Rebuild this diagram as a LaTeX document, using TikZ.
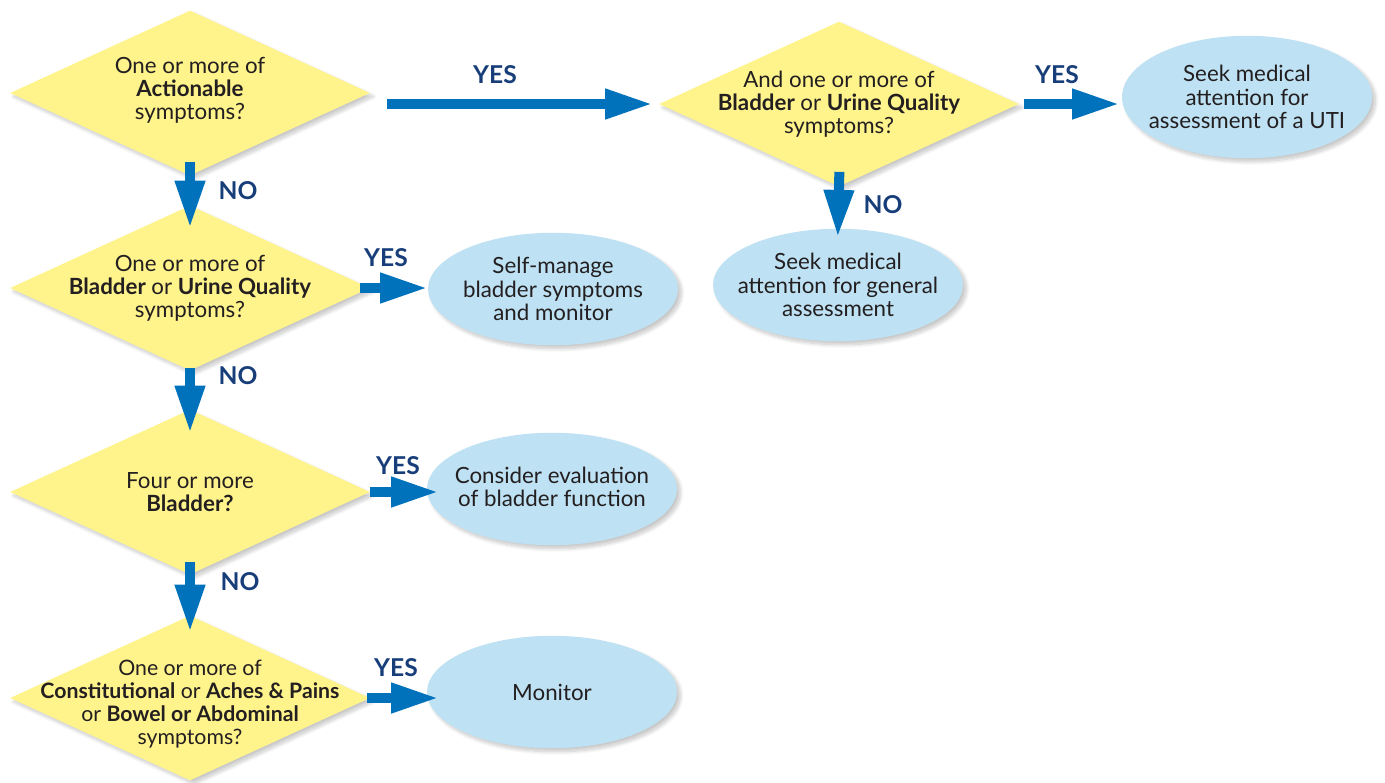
\documentclass[tikz,border=0pt]{standalone}
\usepackage{fontspec}
\setmainfont{Lato}
\usetikzlibrary{shapes.geometric,arrows.meta,shadows.blur}

\definecolor{qyellow}{RGB}{255,243,140}
\definecolor{ablue}{RGB}{190,225,243}
\definecolor{flowblue}{RGB}{0,114,188}
\definecolor{labelnavy}{RGB}{24,62,122}
\definecolor{inkgray}{RGB}{35,31,32}

\tikzset{%
    soft shadow/.style={
        blur shadow={shadow blur steps=10, shadow xshift=2pt, shadow yshift=-2pt, shadow opacity=22}
    },
    every decision/.style={
        diamond,
        fill=qyellow,
        minimum width=7.2cm,
        minimum height=3.3cm,
        inner sep=0pt,
        soft shadow
    },
    every answer/.style={
        ellipse,
        fill=ablue,
        minimum width=5cm,
        minimum height=2.25cm,
        inner sep=0pt,
        soft shadow
    },
    box text/.style={
        text=inkgray,
        align=center,
        font=\fontsize{12.7}{13.2}\selectfont
    },
    flow/.style={
        draw=flowblue,
        line width=0.2cm,
        -{Triangle[width=0.56cm,length=0.95cm]}
    },
    flow label/.style={
        text=labelnavy,
        font=\fontsize{14}{14}\selectfont\bfseries
    },
}

\begin{document}
\begin{tikzpicture}[x=0.02cm, y=-0.02cm]
    \useasboundingbox (0,0) rectangle (1385,782);

        % questions
        \node [every decision/.try] (d1) at (190,93) {};
        \node [every decision/.try] (d2) at (190,288) {};
        \node [every decision/.try] (d3) at (190,492) {};
        \node [every decision/.try] (d4) at (190,698) {};
        \node [every decision/.try] (dR) at (839,104) {};

        \node [box text] (d1-text) at ([yshift=0.06cm]d1) {One or more of\\\textbf{Actionable}\\symptoms?};
        \node [box text] (d2-text) at (d2) {One or more of\\\textbf{Bladder} or \textbf{Urine Quality}\\symptoms?};
        \node [box text] (d3-text) at (d3) {Four or more\\\textbf{Bladder?}};
        \node [box text, font=\fontsize{12.1}{13.2}\selectfont] (d4-text) at ([yshift=-0.12cm]d4) {One or more of\\\textbf{Constitutional} or \textbf{Aches \& Pains}\\or \textbf{Bowel or Abdominal}\\symptoms?};
        \node [box text] (dR-text) at (dR) {And one or more of\\\textbf{Bladder} or \textbf{Urine Quality}\\symptoms?};

        % outcomes
        \node [every answer/.try, minimum height=2.45cm] (eUTI) at (1247,97) {};
        \node [every answer/.try] (eGen) at (838,285) {};
        \node [every answer/.try] (eSelf) at (553,289) {};
        \node [every answer/.try] (eEval) at (552,489) {};
        \node [every answer/.try] (eMon) at (552,692) {};

        \node [box text] (eUTI-text) at (eUTI) {Seek medical\\attention for\\assessment of a UTI};
        \node [box text] (eGen-text) at (eGen) {Seek medical\\attention for general\\assessment};
        \node [box text] (eSelf-text) at (eSelf) {Self-manage\\bladder symptoms\\and monitor};
        \node [box text] (eEval-text) at ([yshift=0.04cm]eEval) {Consider evaluation\\of bladder function};
        \node [box text] (eMon-text) at (eMon) {Monitor};

        % arrows
        \draw [flow, shorten <=0.34cm, shorten >=0.12cm] (d1.east |- dR.west) -- (dR.west);
        \draw [flow, shorten <=0.1cm, shorten >=0.04cm] (dR.east) -- (dR.east -| eUTI.west);
        \draw [flow, shorten <=-0.28cm, shorten >=-0.46cm] (d1.south) -- (d2.north);
        \draw [flow, shorten <=-0.3cm, shorten >=-0.18cm] (dR.south) -- (eGen.north);
        \draw [flow, shorten <=-0.06cm, shorten >=-0.48cm] (d2.south) -- (d3.north);
        \draw [flow, shorten <=-0.26cm, shorten >=-0.34cm] (d3.south) -- (d4.north);
        \draw [flow, shorten <=-0.2cm] (d2.east) -- (d2.east -| eSelf.west);
        \draw [flow, shorten >=-0.24cm] (d3.east) -- (d3.east -| eEval.west);
        \draw [flow, shorten <=-0.06cm, shorten >=-0.24cm] (d4.east) -- (d4.east -| eMon.west);

        % answers on the arrows
        \node [flow label] (yes-1) at (495,75) {YES};
        \node [flow label] (yes-R) at (1057,75) {YES};
        \node [flow label] (no-1) at (238,191) {NO};
        \node [flow label] (no-R) at (883,205) {NO};
        \node [flow label] (yes-2) at (386,258) {YES};
        \node [flow label] (no-2) at (238,376) {NO};
        \node [flow label] (yes-3) at (398,466) {YES};
        \node [flow label] (no-3) at (240,582) {NO};
        \node [flow label] (yes-4) at (396,668) {YES};

\end{tikzpicture}
\end{document}
